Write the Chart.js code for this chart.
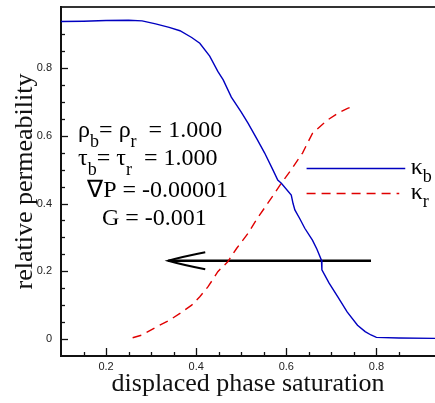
<!DOCTYPE html>
<html>
<head>
<meta charset="utf-8">
<script src="https://cdn.jsdelivr.net/npm/chart.js@4.4.1/dist/chart.umd.min.js"></script>
<style>
html, body { margin: 0; padding: 0; background: #fff; overflow: hidden; }
#wrap { width: 435px; height: 403px; position: relative; }
</style>
</head>
<body>
<div id="wrap"><canvas id="chart_relPerm"></canvas></div>
<script>
// kappa_b (blue, solid)
var blueX = [0.10, 0.15, 0.20, 0.25, 0.28, 0.31, 0.34, 0.364, 0.39, 0.408, 0.43, 0.448, 0.46, 0.478,
             0.50, 0.515, 0.535, 0.552, 0.57, 0.581, 0.589, 0.611, 0.615, 0.619, 0.63, 0.641, 0.658,
             0.668, 0.678, 0.679, 0.695, 0.714, 0.735, 0.758, 0.775, 0.788, 0.80, 0.85, 0.93];
var blueY = [0.937, 0.938, 0.940, 0.941, 0.939, 0.930, 0.920, 0.910, 0.890, 0.873, 0.835, 0.790, 0.765, 0.714,
             0.670, 0.637, 0.590, 0.549, 0.500, 0.469, 0.460, 0.425, 0.400, 0.381, 0.355, 0.327, 0.292,
             0.265, 0.233, 0.204, 0.165, 0.125, 0.080, 0.041, 0.022, 0.012, 0.005, 0.003, 0.002];
// kappa_r (red, dashed)
var redX = [0.259, 0.28, 0.312, 0.34, 0.364, 0.39, 0.408, 0.426, 0.441, 0.448, 0.47, 0.49, 0.515,
            0.535, 0.559, 0.574, 0.59, 0.611, 0.636, 0.658, 0.691, 0.715, 0.736, 0.745];
var redY = [0.004, 0.012, 0.036, 0.055, 0.076, 0.100, 0.125, 0.154, 0.184, 0.199, 0.228, 0.268, 0.312,
            0.355, 0.401, 0.430, 0.462, 0.500, 0.549, 0.607, 0.646, 0.667, 0.681, 0.685];
// arrow
var arrowX = [0.338, 0.788];
var arrowY = 0.231;

var xTickLabels = ['0.2', '0.4', '0.6', '0.8'];
var yTickLabels = ['0', '0.2', '0.4', '0.6', '0.8'];

// text lines: [text, isSubscript]
var noteLines = [
  { x: 0.138, y: 0.596, parts: [['ρ', 0], ['b', 1], ['= ', 0], ['ρ', 0], ['r', 1], ['  = 1.000', 0]] },
  { x: 0.138, y: 0.513, parts: [['τ', 0], ['b', 1], ['= ', 0], ['τ', 0], ['r', 1], ['  = 1.000', 0]] },
  { x: 0.158, y: 0.419, parts: [['∇P = -0.00001', 0]] },
  { x: 0.191, y: 0.336, parts: [['G = -0.001', 0]] }
];
var legendItems = [
  { sym: 'κ', sub: 'b', color: '#0000c0', dash: [] },
  { sym: 'κ', sub: 'r', color: '#e00000', dash: [9, 6] }
];

function toPoints(xs, ys) {
  return xs.map(function (x, i) { return { x: x, y: ys[i] }; });
}
function isStep(v, s) {
  var r = v / s;
  return Math.abs(r - Math.round(r)) < 1e-6;
}
function tickLabel(v, labels) {
  var s = String(Math.round(v * 10) / 10);
  return (isStep(v, 0.2) && labels.indexOf(s) >= 0) ? s : '';
}

var decorPlugin = {
  id: 'decor',
  beforeDraw: function (chart) {
    var ctx = chart.ctx;
    ctx.save();
    ctx.fillStyle = 'white';
    ctx.fillRect(0, 0, chart.width, chart.height);
    ctx.restore();
  },
  afterDraw: function (chart) {
    var ctx = chart.ctx, xs = chart.scales.x, ys = chart.scales.y, area = chart.chartArea;
    ctx.save();
    // inward ticks
    ctx.strokeStyle = '#111';
    ctx.lineWidth = 1.3;
    xs.ticks.forEach(function (t) {
      if (!isStep(t.value, 0.05)) return;
      var px = Math.round(xs.getPixelForValue(t.value)) + 0.5;
      if (px <= area.left + 2 || px >= area.right - 1) return;
      var len = isStep(t.value, 0.2) ? 8 : 4;
      ctx.beginPath(); ctx.moveTo(px, area.bottom); ctx.lineTo(px, area.bottom - len); ctx.stroke();
    });
    ys.ticks.forEach(function (t) {
      if (!isStep(t.value, 0.05)) return;
      var py = Math.round(ys.getPixelForValue(t.value)) + 0.5;
      if (py <= area.top + 2 || py >= area.bottom - 2) return;
      var len = isStep(t.value, 0.2) ? 7 : 4;
      ctx.beginPath(); ctx.moveTo(area.left, py); ctx.lineTo(area.left + len, py); ctx.stroke();
    });

    // arrow head
    var tx = xs.getPixelForValue(arrowX[0]), ty = ys.getPixelForValue(arrowY);
    ctx.strokeStyle = '#000';
    ctx.lineWidth = 2;
    ctx.beginPath();
    ctx.moveTo(tx + 37, ty - 8.5);
    ctx.quadraticCurveTo(tx + 14, ty - 4, tx, ty);
    ctx.quadraticCurveTo(tx + 14, ty + 4, tx + 37, ty + 8.5);
    ctx.stroke();

    // text block
    ctx.fillStyle = '#000';
    ctx.textBaseline = 'alphabetic';
    noteLines.forEach(function (ln) {
      var px = xs.getPixelForValue(ln.x), py = ys.getPixelForValue(ln.y);
      ln.parts.forEach(function (p) {
        ctx.font = p[1] ? '18px "Liberation Serif"' : '24px "Liberation Serif"';
        ctx.fillText(p[0], px, py + (p[1] ? 10 : 0));
        px += ctx.measureText(p[0]).width;
      });
    });

    // legend
    var lx0 = xs.getPixelForValue(0.645), lx1 = xs.getPixelForValue(0.864), tx0 = xs.getPixelForValue(0.876);
    var lys = [0.506, 0.43];
    legendItems.forEach(function (it, i) {
      var py = Math.round(ys.getPixelForValue(lys[i])) + 0.5;
      ctx.strokeStyle = it.color;
      ctx.lineWidth = 1.4;
      ctx.setLineDash(it.dash);
      ctx.beginPath(); ctx.moveTo(lx0, py); ctx.lineTo(lx1 - (it.dash.length ? 6 : 0), py); ctx.stroke();
      ctx.setLineDash([]);
      ctx.fillStyle = '#000';
      ctx.font = '24px "Liberation Serif"';
      ctx.fillText(it.sym, tx0, py + 5);
      var w = ctx.measureText(it.sym).width;
      ctx.font = '18px "Liberation Serif"';
      ctx.fillText(it.sub, tx0 + w, py + 13);
    });
    ctx.restore();
  }
};

var chart_relPerm = new Chart(document.getElementById('chart_relPerm'), {
  type: 'scatter',
  data: {
    datasets: [
      {
        label: 'κb',
        data: toPoints(blueX, blueY),
        showLine: true,
        borderColor: '#0000c0',
        borderWidth: 1.4,
        pointRadius: 0,
        tension: 0
      },
      {
        label: 'κr',
        data: toPoints(redX, redY),
        showLine: true,
        borderColor: '#e00000',
        borderWidth: 1.4,
        borderDash: [9, 6],
        pointRadius: 0,
        tension: 0
      },
      {
        label: 'arrow',
        data: toPoints(arrowX, [arrowY, arrowY]),
        showLine: true,
        borderColor: '#000',
        borderWidth: 2.5,
        pointRadius: 0
      }
    ]
  },
  options: {
    animation: false,
    responsive: true,
    maintainAspectRatio: false,
    layout: { padding: { top: 7, right: 0, bottom: 0, left: 0 } },
    plugins: {
      legend: { display: false },
      tooltip: { enabled: false }
    },
    scales: {
      x: {
        type: 'linear',
        min: 0.1,
        max: 0.93,
        afterFit: function (s) { s.height = 47; s.paddingLeft = 0; s.paddingRight = 0; },
        grid: { display: false, drawTicks: false },
        border: { display: true, color: '#111', width: 2 },
        ticks: {
          stepSize: 0.05,
          autoSkip: false,
          maxRotation: 0,
          padding: 4,
          color: '#222',
          font: { family: 'Liberation Sans', size: 11 },
          callback: function (v) { return tickLabel(v, xTickLabels); }
        },
        title: {
          display: true,
          text: 'displaced phase saturation',
          color: '#111',
          font: { family: 'Liberation Serif', size: 26 },
          padding: { top: 0, bottom: 3 }
        }
      },
      x2: {
        type: 'linear',
        position: 'top',
        min: 0.1,
        max: 0.93,
        afterFit: function (s) { s.height = 0; s.paddingLeft = 0; s.paddingRight = 0; },
        grid: { display: false, drawTicks: false },
        border: { display: true, color: '#333', width: 2 },
        ticks: { display: false }
      },
      y: {
        type: 'linear',
        min: -0.05,
        max: 0.98,
        afterFit: function (s) { s.width = 61; s.paddingTop = 0; s.paddingBottom = 0; },
        grid: { display: false, drawTicks: false },
        border: { display: true, color: '#111', width: 2 },
        ticks: {
          stepSize: 0.05,
          autoSkip: false,
          padding: 9,
          color: '#222',
          font: { family: 'Liberation Sans', size: 11 },
          callback: function (v) { return tickLabel(v, yTickLabels); }
        },
        title: {
          display: true,
          text: 'relative permeability',
          color: '#111',
          font: { family: 'Liberation Serif', size: 26 },
          padding: { top: 10, bottom: 0 }
        }
      }
    }
  },
  plugins: [decorPlugin]
});
</script>
</body>
</html>
